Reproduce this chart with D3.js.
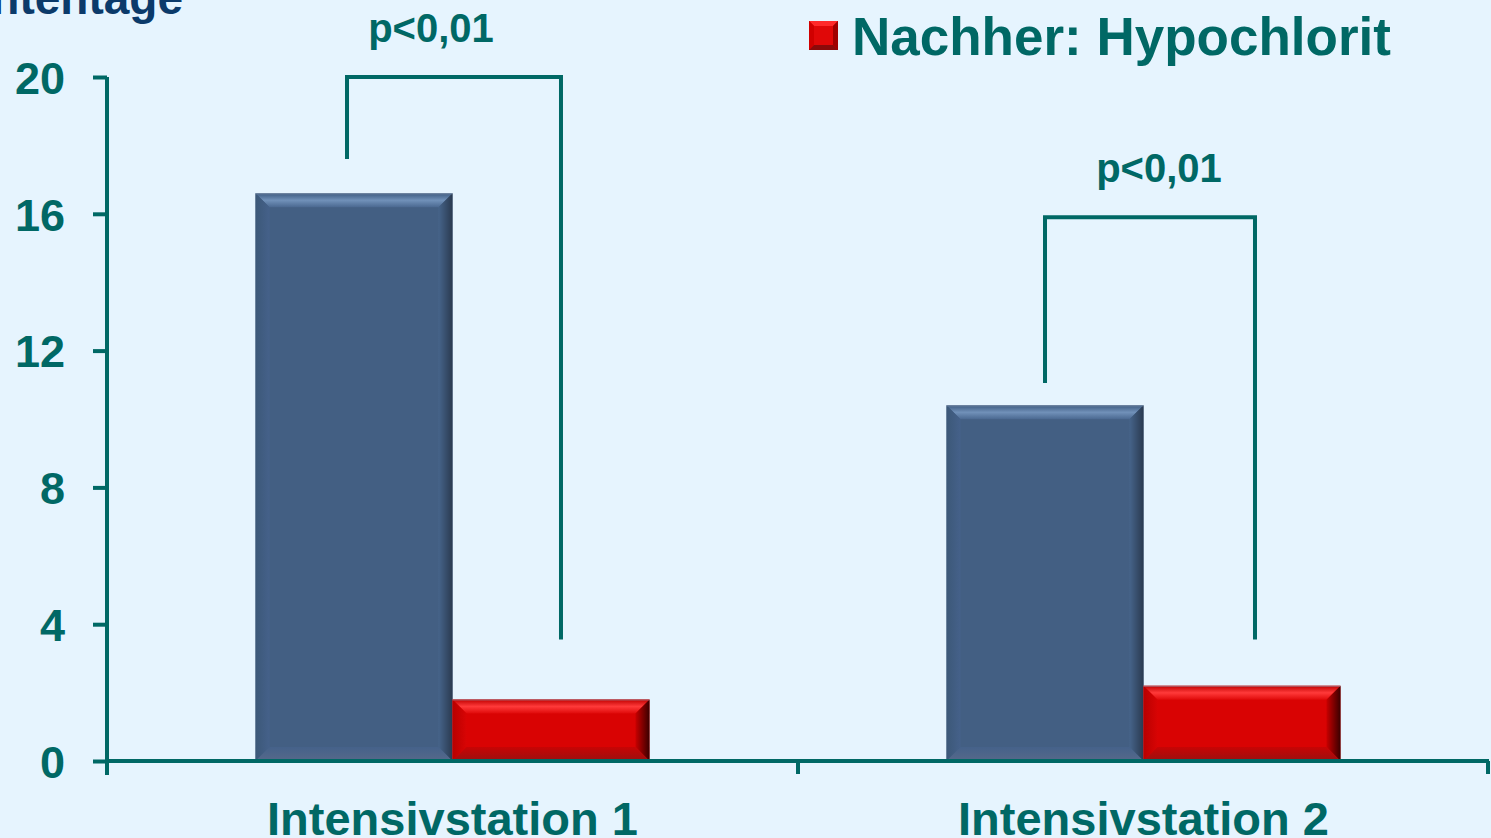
<!DOCTYPE html>
<html><head><meta charset="utf-8">
<script src="https://cdn.jsdelivr.net/npm/d3@7"></script>
<style>
html,body{margin:0;padding:0;background:#e6f4fe;overflow:hidden}
text{font-family:"Liberation Sans",Arial,sans-serif;font-weight:bold}
</style></head>
<body><svg id="c" width="1491" height="838"></svg>
<script>
const categories = ["Intensivstation 1", "Intensivstation 2"];
const seriesNames = ["Vorher", "Nachher: Hypochlorit"];
const vorher = [16.6, 10.4];
const nachher = [1.8, 2.2];
const yTicks = [0, 4, 8, 12, 16, 20];
const yTitle = "Infektionen/1000 Patiententage";
const pLabels = ["p<0,01", "p<0,01"];
// bracket: [top, left leg bottom, right leg bottom] in value units
const bracketTop = [20, 15.9];
const bracketLeftEnd = [17.6, 11.05];
const bracketRightEnd = [3.55, 3.55];

const teal = "#006865";
const svg = d3.select("#c");
const W = 1491, H = 838;
svg.append("rect").attr("width", W).attr("height", H).attr("fill", "#e6f4fe");

const x0 = d3.scaleBand().domain(categories).range([107, 1489]).paddingInner(0).paddingOuter(0);
const x1 = d3.scaleBand().domain(seriesNames).range([0, x0.bandwidth()]).paddingInner(0).paddingOuter(0.754);
const y = d3.scaleLinear().domain([0, 20]).range([761, 77]);

const defs = svg.append("defs");
function grad(id, stops, vertical) {
  const g = defs.append("linearGradient").attr("id", id)
    .attr("x1", 0).attr("y1", 0).attr("x2", vertical ? 0 : 1).attr("y2", vertical ? 1 : 0);
  stops.forEach(s => g.append("stop").attr("offset", s[0]).attr("stop-color", s[1]));
}
grad("blueTop", [[0, "#3d5a80"], [0.5, "#7191b9"], [1, "#4a6890"]], true);
grad("redTop", [[0, "#c00000"], [0.5, "#ff3a3a"], [1, "#e00a0a"]], true);
grad("blueRight", [[0, "#46648a"], [1, "#2a3a50"]], false);
grad("redRight", [[0, "#c80000"], [1, "#3a0000"]], false);
grad("blueLeft", [[0, "#3c5878"], [1, "#45618a"]], false);
grad("redLeft", [[0, "#b80000"], [1, "#d80404"]], false);
grad("blueBot", [[0, "#45628a"], [1, "#56698a"]], true);
grad("redBot", [[0, "#c80404"], [1, "#9a1010"]], true);

const colors = {
  "Vorher": {main: "#435f83", top: "url(#blueTop)", left: "url(#blueLeft)", right: "url(#blueRight)", bot: "url(#blueBot)"},
  "Nachher: Hypochlorit": {main: "#d90303", top: "url(#redTop)", left: "url(#redLeft)", right: "url(#redRight)", bot: "url(#redBot)"}
};

const data = [];
categories.forEach((c, i) => {
  data.push({cat: c, s: seriesNames[0], v: vorher[i]});
  data.push({cat: c, s: seriesNames[1], v: nachher[i]});
});

const bars = svg.append("g");
data.forEach(d => {
  const bx = x0(d.cat) + x1(d.s), bw = x1.bandwidth();
  const by = y(d.v), bh = y(0) - y(d.v);
  const b = Math.min(14, bh / 2);
  const g = bars.append("g");
  const col = colors[d.s];
  g.append("rect").attr("x", bx).attr("y", by).attr("width", bw).attr("height", bh).attr("fill", col.main);
  const x2 = bx + bw, y2 = by + bh;
  g.append("polygon").attr("points", [[bx, by], [x2, by], [x2 - b, by + b], [bx + b, by + b]].join(" ")).attr("fill", col.top);
  g.append("polygon").attr("points", [[bx, by], [bx + b, by + b], [bx + b, y2 - b], [bx, y2]].join(" ")).attr("fill", col.left);
  g.append("polygon").attr("points", [[x2, by], [x2, y2], [x2 - b, y2 - b], [x2 - b, by + b]].join(" ")).attr("fill", col.right);
  g.append("polygon").attr("points", [[bx, y2], [bx + b, y2 - b], [x2 - b, y2 - b], [x2, y2]].join(" ")).attr("fill", col.bot);
  g.append("line").attr("x1", bx).attr("x2", x2).attr("y1", by + 0.5).attr("y2", by + 0.5).attr("stroke", "#9aa8bb").attr("stroke-width", 1).attr("opacity", 0.6);
});

// Y axis
const yAxis = d3.axisLeft(y).tickValues(yTicks).tickSize(14).tickPadding(28).tickFormat(d3.format("d"));
const yg = svg.append("g").attr("transform", "translate(107,0)").call(yAxis);
yg.select(".domain").attr("stroke", teal).attr("stroke-width", 4).attr("d", "M0,77V775");
yg.selectAll(".tick line").attr("stroke", teal).attr("stroke-width", 4);
yg.selectAll(".tick text").attr("fill", teal).style("font-size", "45px").style("font-family", "'Liberation Sans',Arial,sans-serif").style("font-weight", "bold").attr("dy", "0.36em");

// X axis
const xg = svg.append("g").attr("transform", "translate(0,761)");
xg.append("line").attr("x1", 105).attr("x2", 1489).attr("y1", 0).attr("y2", 0).attr("stroke", teal).attr("stroke-width", 4);
const xBounds = categories.map(c => x0(c) + x0.bandwidth());
xBounds.forEach(xb => {
  xg.append("line").attr("x1", Math.min(xb, 1488)).attr("x2", Math.min(xb, 1488)).attr("y1", 0).attr("y2", 13).attr("stroke", teal).attr("stroke-width", 4);
});
xg.selectAll("text.cat").data(categories).join("text").attr("class", "cat")
  .attr("x", d => x0(d) + x0.bandwidth() / 2).attr("y", 74)
  .attr("text-anchor", "middle").attr("fill", teal).style("font-size", "47px").text(d => d);

// Brackets
const legOffL = [-7, 0], legOffR = [10, 13], labelOff = [-23, 9];
categories.forEach((c, i) => {
  const lx = x0(c) + x1(seriesNames[0]) + x1.bandwidth() / 2 + legOffL[i];
  const rx = x0(c) + x1(seriesNames[1]) + x1.bandwidth() / 2 + legOffR[i];
  const path = d3.path();
  path.moveTo(lx, y(bracketLeftEnd[i]));
  path.lineTo(lx, y(bracketTop[i]));
  path.lineTo(rx, y(bracketTop[i]));
  path.lineTo(rx, y(bracketRightEnd[i]));
  svg.append("path").attr("d", path.toString()).attr("fill", "none").attr("stroke", teal).attr("stroke-width", 4);
  svg.append("text").attr("x", (lx + rx) / 2 + labelOff[i]).attr("y", y(bracketTop[i]) - 35)
    .attr("text-anchor", "middle").attr("fill", teal).style("font-size", "40px").text(pLabels[i]);
});

// Y title (cut off)
svg.append("text").attr("x", 183).attr("y", 14).attr("text-anchor", "end")
  .attr("fill", "#0b3a6a").style("font-size", "46px").text(yTitle);

// Legend
const lg = svg.append("g").attr("transform", "translate(809,21)");
lg.append("rect").attr("width", 29).attr("height", 29).attr("fill", "#c00000");
lg.append("polygon").attr("points", "0,0 29,0 14.5,14.5").attr("fill", "#ff2a2a");
lg.append("polygon").attr("points", "0,29 29,29 14.5,14.5").attr("fill", "#8a0a0a");
lg.append("polygon").attr("points", "0,0 0,29 14.5,14.5").attr("fill", "#d00000");
lg.append("polygon").attr("points", "29,0 29,29 14.5,14.5").attr("fill", "#a00000");
lg.append("rect").attr("x", 5).attr("y", 5).attr("width", 19).attr("height", 19).attr("fill", "#e00808");
lg.append("text").attr("x", 43).attr("y", 34).attr("fill", teal).style("font-size", "53px").text(seriesNames[1]);
</script></body></html>
